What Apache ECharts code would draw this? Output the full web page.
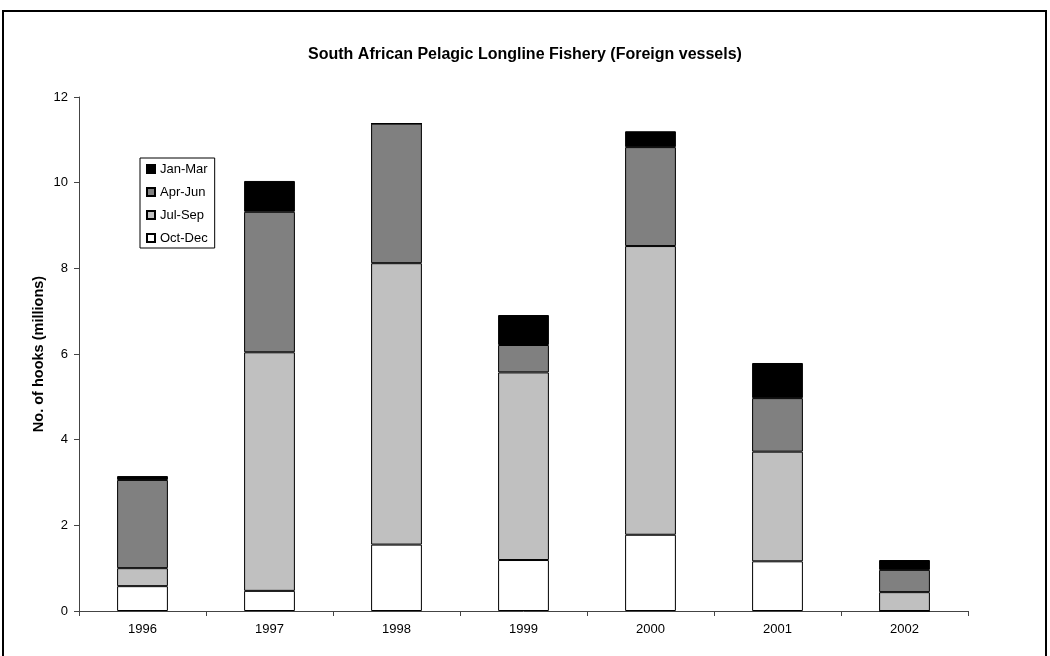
<!DOCTYPE html>
<html>
<head>
<meta charset="utf-8">
<script src="https://cdn.jsdelivr.net/npm/echarts@6/dist/echarts.min.js"></script>
<style>
html,body{margin:0;padding:0;background:#fff;}
#chart{width:1050px;height:656px;}
</style>
</head>
<body>
<div id="chart"></div>
<script>
const years = ['1996','1997','1998','1999','2000','2001','2002'];
const octDec = [0.58, 0.47, 1.55, 1.19, 1.78, 1.16, 0];
const julSep = [0.42, 5.57, 6.57, 4.38, 6.74, 2.56, 0.44];
const aprJun = [2.06, 3.28, 3.26, 0.64, 2.31, 1.25, 0.52];
const janMar = [0.09, 0.72, 0, 0.70, 0.37, 0.82, 0.23];
const yTicks = [0, 2, 4, 6, 8, 10, 12];

const FONT = '"Liberation Sans", Arial, sans-serif';
const chart = echarts.init(document.getElementById('chart'), null, {renderer: 'canvas'});

function mk(name, data, color) {
  return {
    name: name, type: 'bar', stack: 'total', data: data,
    barCategoryGap: '60%',
    itemStyle: {color: color, borderColor: '#000', borderWidth: 1},
    emphasis: {disabled: true}
  };
}

chart.setOption({
  animation: false,
  backgroundColor: '#fff',
  textStyle: {fontFamily: FONT},
  title: {
    text: 'South African Pelagic Longline Fishery (Foreign vessels)',
    left: 'center', top: 42,
    textStyle: {fontFamily: FONT, fontSize: 16, fontWeight: 'bold', color: '#000'}
  },
  graphic: [{
    type: 'rect', shape: {x: 3, y: 11, width: 1043, height: 700},
    style: {fill: 'none', stroke: '#000', lineWidth: 2}, silent: true, z: 100
  }],
  legend: {
    orient: 'vertical', left: 140, top: 158,
    data: ['Jan-Mar', 'Apr-Jun', 'Jul-Sep', 'Oct-Dec'],
    itemWidth: 8, itemHeight: 8, itemGap: 9, icon: 'rect',
    padding: [4, 7, 3, 6],
    borderColor: '#000', borderWidth: 1,
    textStyle: {fontFamily: FONT, fontSize: 13, color: '#000', lineHeight: 14}
  },
  grid: {left: 79, right: 82, top: 97, bottom: 45},
  xAxis: {
    type: 'category', data: years,
    axisLine: {lineStyle: {color: '#444', width: 1}},
    axisTick: {show: true, length: 5, lineStyle: {color: '#444'}},
    axisLabel: {color: '#000', fontSize: 13, fontFamily: FONT, margin: 12}
  },
  yAxis: {
    type: 'value', min: yTicks[0], max: yTicks[yTicks.length - 1], interval: 2,
    name: 'No. of hooks (millions)', nameLocation: 'middle', nameGap: 33,
    nameMoveOverlap: false,
    nameTextStyle: {fontFamily: FONT, fontSize: 14.5, fontWeight: 'bold', color: '#000'},
    axisLine: {show: true, lineStyle: {color: '#444', width: 1}},
    axisTick: {show: true, length: 5, lineStyle: {color: '#444'}},
    splitLine: {show: false},
    axisLabel: {color: '#000', fontSize: 13, fontFamily: FONT, margin: 11}
  },
  series: [
    mk('Oct-Dec', octDec, '#ffffff'),
    mk('Jul-Sep', julSep, '#c0c0c0'),
    mk('Apr-Jun', aprJun, '#808080'),
    mk('Jan-Mar', janMar, '#000000')
  ]
});
</script>
</body>
</html>
